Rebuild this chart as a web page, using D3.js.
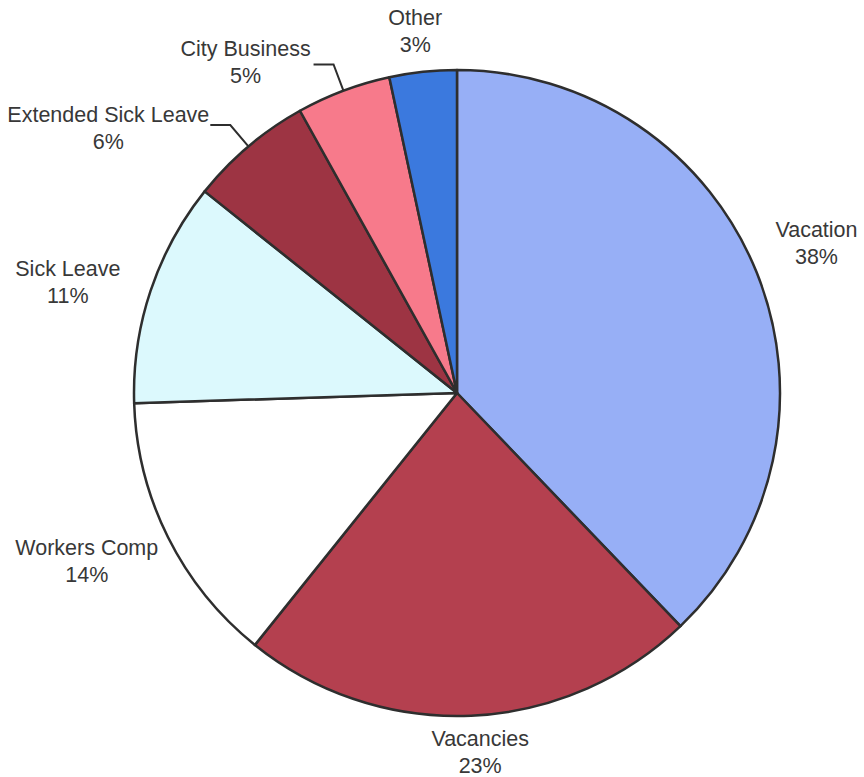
<!DOCTYPE html>
<html>
<head>
<meta charset="utf-8">
<script src="https://cdn.jsdelivr.net/npm/d3@7"></script>
<style>
  html, body { margin: 0; padding: 0; background: #fff; }
  svg { display: block; }
  .label { font-family: "Liberation Sans", Arial, sans-serif; font-size: 21.5px; fill: #383838; }
</style>
</head>
<body>
<div id="chart"></div>
<script>
const categories = ['Vacation', 'Vacancies', 'Workers Comp', 'Sick Leave', 'Extended Sick Leave', 'City Business', 'Other'];
const shares = [37.84, 22.92, 13.74, 11.23, 6.19, 4.72, 3.36];
const sliceColors = ['#97aff6', '#b4404f', '#ffffff', '#dcf9fd', '#9d3443', '#f77a8b', '#3b79de'];
const withLeader = ['Extended Sick Leave', 'City Business'];

// label nudges (px) from the default spot just outside the pie
const labelNudge = [[18, -13], [7, -9], [-41, 4], [-40, 5], [-111, 16], [-82, 13], [-3, 4]];

const width = 864, height = 777;
const cx = 457, cy = 393, radius = 323;

const svg = d3.select('#chart').append('svg')
  .attr('width', width)
  .attr('height', height);

const g = svg.append('g').attr('transform', 'translate(' + cx + ',' + cy + ')');

const data = categories.map((c, i) => ({ name: c, value: shares[i], color: sliceColors[i], nudge: labelNudge[i] }));

const pie = d3.pie().value(d => d.value).sort(null);
const arc = d3.arc().innerRadius(0).outerRadius(radius);
const arcs = pie(data);

g.selectAll('.slice')
  .data(arcs)
  .enter()
  .append('path')
  .attr('class', 'slice')
  .attr('d', arc)
  .attr('fill', d => d.data.color)
  .attr('stroke', '#2e2e2e')
  .attr('stroke-width', 2.5)
  .attr('stroke-linejoin', 'round');

const polar = (a, r) => [r * Math.sin(a), -r * Math.cos(a)];
const mid = d => (d.startAngle + d.endAngle) / 2;

// leader lines for the two small slices on the upper left
arcs.filter(d => withLeader.includes(d.data.name)).forEach(d => {
  const p0 = polar(mid(d), radius);
  const p1 = polar(mid(d), radius + 28);
  const p2 = [p1[0] - 20, p1[1]];
  g.append('polyline')
    .attr('points', [p0, p1, p2].map(p => p.join(',')).join(' '))
    .attr('fill', 'none')
    .attr('stroke', '#2e2e2e')
    .attr('stroke-width', 2);
});

const labels = g.selectAll('.label')
  .data(arcs)
  .enter()
  .append('text')
  .attr('class', 'label')
  .attr('text-anchor', 'middle')
  .attr('transform', d => {
    const p = polar(mid(d), radius + 45);
    return 'translate(' + (p[0] + d.data.nudge[0]) + ',' + (p[1] + d.data.nudge[1]) + ')';
  });

labels.append('tspan').attr('x', 0).attr('y', -6).text(d => d.data.name);
labels.append('tspan').attr('x', 0).attr('y', 21).text(d => Math.round(d.data.value) + '%');
</script>
</body>
</html>
